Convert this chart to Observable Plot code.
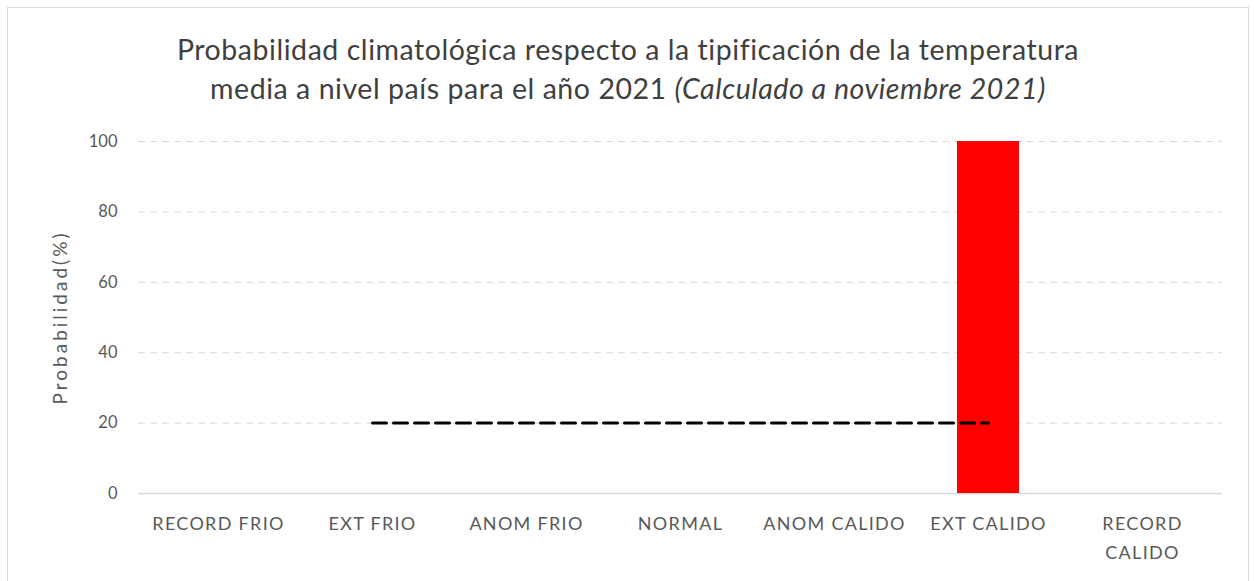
<!DOCTYPE html>
<html>
<head>
<meta charset="utf-8">
<script src="https://cdn.jsdelivr.net/npm/d3@7"></script>
<script src="https://cdn.jsdelivr.net/npm/@observablehq/plot@0.6"></script>
<style>
  html, body { margin: 0; padding: 0; background: #fff; }
  #frame {
    position: absolute; left: 7px; top: 7px; width: 1242px; height: 574px;
    border: 1px solid #d9d9d9; box-sizing: border-box; background: #fff;
  }
  #title {
    height: 108px; box-sizing: border-box; padding-top: 22px;
    text-align: center; font-family: Lato, "Open Sans", sans-serif;
    font-size: 28.5px; line-height: 39px; color: #404040; letter-spacing: 0.55px;
  }
  #chart svg { display: block; }
  #chart svg g[aria-label="x-axis tick label"] text { letter-spacing: 1.3px; }
  #chart svg g[aria-label="text"] text { letter-spacing: 3px; }
</style>
</head>
<body>
<div id="frame">
  <div id="title">Probabilidad climatológica respecto a la tipificación de la temperatura<br>media a nivel país para el año 2021 <i>(Calculado a noviembre 2021)</i></div>
  <div id="chart"></div>
</div>
<script>
const categories = ["RECORD FRIO", "EXT FRIO", "ANOM FRIO", "NORMAL", "ANOM CALIDO", "EXT CALIDO", "RECORD CALIDO"];
const probabilities = [0, 0, 0, 0, 0, 100, 0];
const yTicks = [0, 20, 40, 60, 80, 100];
const refCategories = ["EXT FRIO", "EXT CALIDO"];
const refValues = [20, 20];
const yLabel = "Probabilidad(%)";

const bars = categories.map((c, i) => ({cat: c, value: probabilities[i]}));
const refLine = refCategories.map((c, i) => ({cat: c, value: refValues[i]}));

const chart = Plot.plot({
  width: 1240,
  height: 465,
  marginLeft: 130,
  marginRight: 26,
  marginTop: 25,
  marginBottom: 88,
  style: {fontFamily: "Lato, 'Open Sans', sans-serif", fontSize: "16.5px", color: "#595959", background: "#fff"},
  x: {domain: categories, paddingInner: 0.6, paddingOuter: 0.3, label: null},
  y: {domain: [0, 100], label: null},
  marks: [
    Plot.gridY(yTicks.filter(d => d > 0), {stroke: "#d9d9d9", strokeOpacity: 1, strokeDasharray: "7,5"}),
    Plot.ruleY([0], {stroke: "#d9d9d9", strokeWidth: 1.5}),
    Plot.barY(bars, {x: "cat", y: "value", fill: "#ff0000"}),
    Plot.line(refLine, {x: "cat", y: "value", stroke: "#000", strokeWidth: 3, strokeDasharray: "14,7"}),
    Plot.axisY({ticks: yTicks, tickSize: 0, tickPadding: 21, label: null, fill: "#595959"}),
    Plot.axisX({tickSize: 0, tickPadding: 15, label: null, fill: "#595959", lineHeight: 1.65, fontSize: 18,
      tickFormat: d => d === "RECORD CALIDO" ? "RECORD\nCALIDO" : d}),
    Plot.text([yLabel], {text: d => d, frameAnchor: "left", textAnchor: "middle", rotate: -90, dx: -78, fill: "#595959", fontSize: 19})
  ]
});
document.getElementById("chart").appendChild(chart);
</script>
</body>
</html>
